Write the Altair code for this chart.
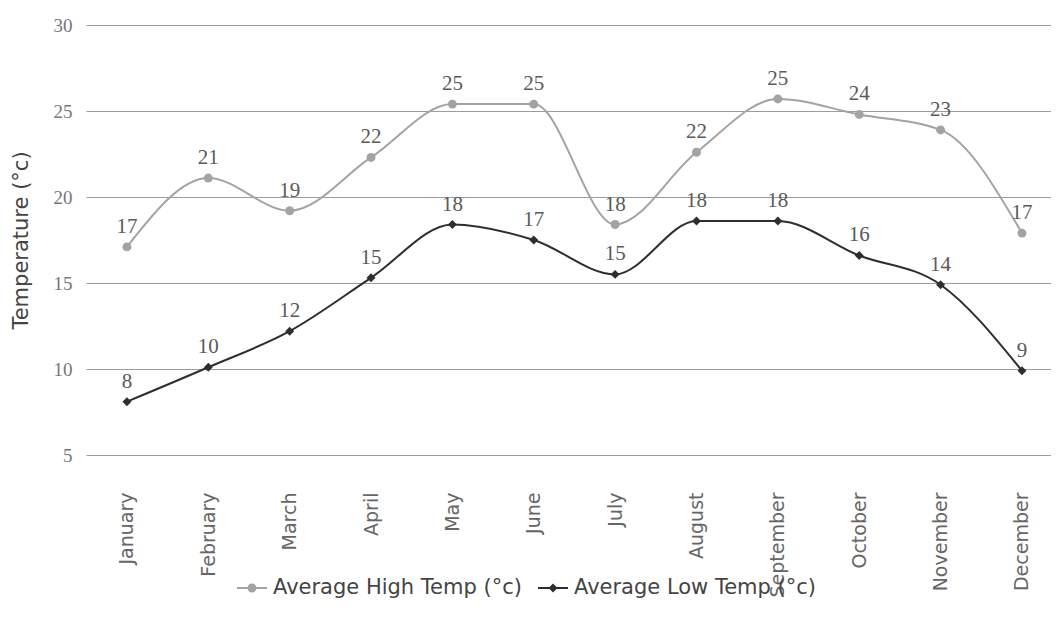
import altair as alt
import pandas as pd

months = ["January", "February", "March", "April", "May", "June", "July",
          "August", "September", "October", "November", "December"]
high_temp = [17.1, 21.1, 19.2, 22.3, 25.4, 25.4, 18.4, 22.6, 25.7, 24.8, 23.9, 17.9]
low_temp = [8.1, 10.1, 12.2, 15.3, 18.4, 17.5, 15.5, 18.6, 18.6, 16.6, 14.9, 9.9]
series_names = ["Average High Temp (°c)", "Average Low Temp (°c)"]
series_colors = ["#a3a3a3", "#2e2e2e"]
series_shapes = ["circle", "diamond"]
legend_paths = ["M-1,-0.07H1V0.07H-1ZM0.3,0A0.3,0.3 0 1,1 -0.3,0A0.3,0.3 0 1,1 0.3,0Z",
                "M-1,-0.07H1V0.07H-1ZM0,-0.3L0.3,0L0,0.3L-0.3,0Z"]
y_ticks = [5, 10, 15, 20, 25, 30]

rows = []
for m, h, l in zip(months, high_temp, low_temp):
    rows.append({"month": m, "series": series_names[0], "value": h})
    rows.append({"month": m, "series": series_names[1], "value": l})
df = pd.DataFrame(rows)

sans = "DejaVu Sans"
serif = "Liberation Serif"

x = alt.X("month:N", sort=months,
          scale=alt.Scale(padding=0.43, align=0.585),
          axis=alt.Axis(title=None, labelAngle=-90, labelAlign="right", labelBaseline="middle",
                        labelPadding=37, labelFont=sans, labelFontSize=19,
                        labelColor="#666666", domain=False, ticks=False, grid=False))
y = alt.Y("value:Q", scale=alt.Scale(domain=[5, 30], zero=False, nice=False),
          axis=alt.Axis(values=y_ticks, title="Temperature (°c)", titleFont=sans,
                        titleFontSize=21, titleFontWeight="normal", titleColor="#444444",
                        titlePadding=22, labelFont=serif, labelFontSize=19,
                        labelColor="#777777", labelPadding=14, domain=False, ticks=False,
                        grid=True, gridColor="#9c9c9c", gridWidth=1))

legend = alt.Legend(title=None, orient="none", direction="horizontal",
                    legendX=151, legendY=548, labelFont=sans,
                    labelFontSize=21, labelColor="#444444", labelLimit=0,
                    labelOffset=6, columnPadding=16, symbolSize=900,
                    symbolOpacity=1, symbolStrokeWidth=0)
color = alt.Color("series:N", scale=alt.Scale(domain=series_names, range=series_colors),
                  legend=legend)
shape = alt.Shape("series:N", scale=alt.Scale(domain=series_names, range=legend_paths),
                  legend=legend)

base = alt.Chart(df)
lines = base.mark_line(interpolate="monotone", strokeWidth=2).encode(x=x, y=y, color=color)
points_high = base.transform_filter(alt.datum.series == series_names[0]).mark_point(
    filled=True, size=80, opacity=1, shape=series_shapes[0]).encode(x=x, y=y, color=color)
points_low = base.transform_filter(alt.datum.series == series_names[1]).mark_point(
    filled=True, size=80, opacity=1, shape=series_shapes[1]).encode(x=x, y=y, color=color)
legend_layer = base.mark_point(filled=True, size=0, opacity=1).encode(
    x=x, y=y, color=color, shape=shape)
labels = base.transform_calculate(label="floor(datum.value)").mark_text(
    dy=-20, font=serif, fontSize=21, color="#5a5a5a"
).encode(x=x, y=y, text="label:Q")

chart = alt.layer(lines, points_high, points_low, legend_layer, labels).properties(
    width=965, height=430,
    autosize=alt.AutoSizeParams(type="none"),
    padding={"left": 78, "top": 17, "right": 0, "bottom": 150},
    background="white",
).configure_view(stroke=None)

chart.save("out.html", embed_options={"renderer": "svg", "actions": False})
